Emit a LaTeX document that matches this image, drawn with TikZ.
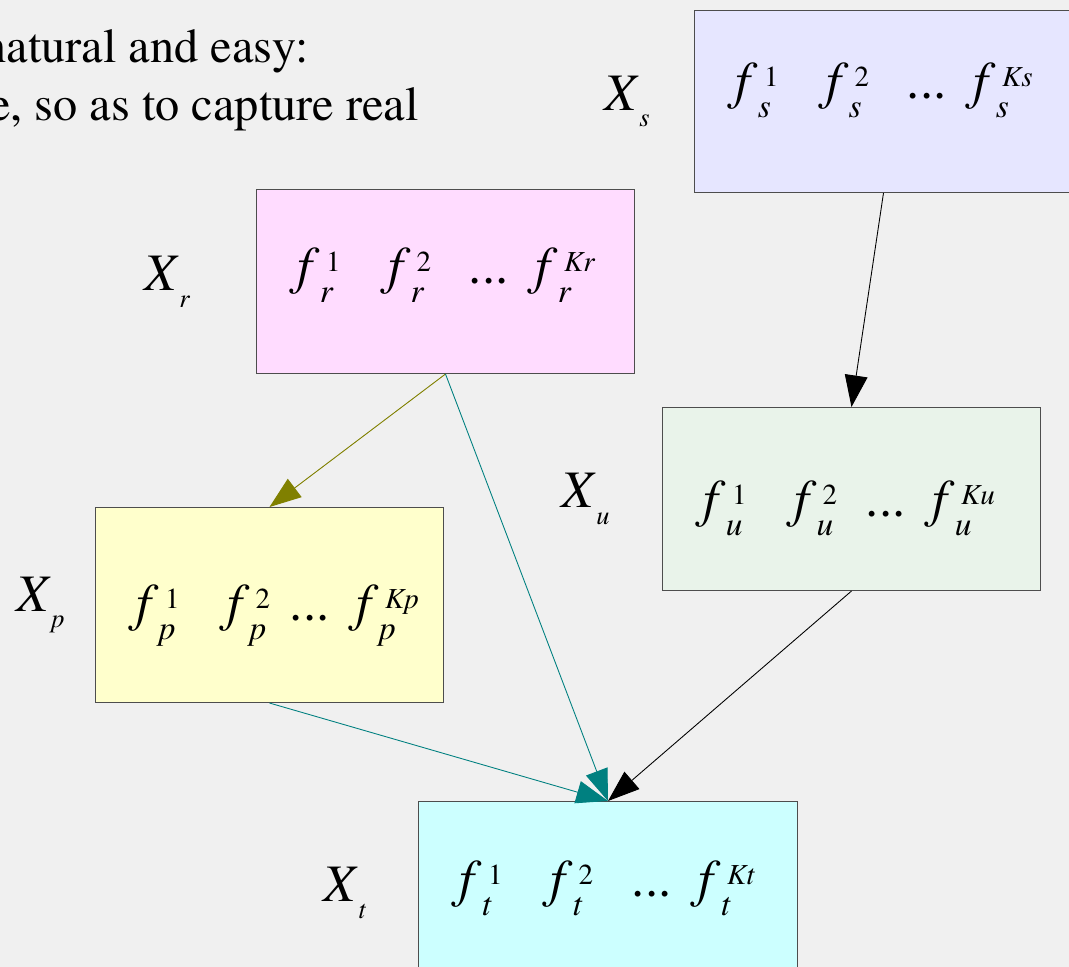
\documentclass[tikz,border=0pt]{standalone}
\usepackage{fontspec}
\setmainfont{texgyretermes}[Extension=.otf, UprightFont=*-regular, ItalicFont=*-italic, BoldFont=*-bold, BoldItalicFont=*-bolditalic]
\usepackage{tikz}
\usetikzlibrary{arrows.meta,positioning}

\definecolor{bgcol}{HTML}{F0F0F0}
\definecolor{edgecol}{HTML}{4D4D4D}
\definecolor{scol}{HTML}{E6E6FF}
\definecolor{rcol}{HTML}{FFDCFF}
\definecolor{ucol}{HTML}{E9F3EA}
\definecolor{pcol}{HTML}{FFFFCC}
\definecolor{tcol}{HTML}{CCFFFF}
\definecolor{olivecol}{HTML}{808000}
\definecolor{tealcol}{HTML}{008080}

% one feature f with sub- and superscript
\newcommand{\fterm}[2]{\textit{f}\rlap{\kern3.5pt\raisebox{7pt}{\fontsize{16.5}{16.5}\selectfont #2}}\raisebox{-10.8pt}{\fontsize{19}{19}\selectfont\itshape #1}}
% the row of features inside a box
\newcommand{\featrow}[2]{\makebox[51.6pt][l]{\fterm{#1}{1}}\makebox[#2][l]{\fterm{#1}{2}}\makebox[38pt][l]{...}\fterm{#1}{\itshape K#1}}
% variable label X with subscript
\newcommand{\varlbl}[1]{\textit{X}\raisebox{-9.5pt}{\fontsize{15}{15}\selectfont\itshape #1}}

\begin{document}
\begin{tikzpicture}[x=0.02cm, y=-0.02cm,
    featbox/.style={rectangle, draw=edgecol, line width=0.6pt, anchor=north west, align=left, inner xsep=0.82cm, inner ysep=0pt, font=\fontsize{30}{30}\selectfont},
    varlabel/.style={inner sep=0pt, font=\fontsize{30}{30}\selectfont},
    arrow/.style={-{Triangle[length=18pt, width=13pt]}, line width=0.5pt}
  ]
    \fill[bgcol] (0,0) rectangle (1069,967);
    \useasboundingbox (0,0) rectangle (1069,967);
    \clip (0,0) rectangle (1069,967);

    \node[anchor=base east, inner sep=0pt, font=\fontsize{27.5}{33}\selectfont] (introa) at (309,62) {natural and easy:};
    \node[anchor=base east, inner sep=0pt, font=\fontsize{27.5}{33}\selectfont] (introb) at (419,120) {e, so as to capture real};

    \node[featbox, fill=scol, text width=5.92cm, minimum height=3.64cm, text height=10.3pt, text depth=13.7pt] (xs) at (694,10) {\featrow{s}{45.9pt}};
    \node[featbox, fill=rcol, text width=5.92cm, minimum height=3.68cm, text height=13.1pt, text depth=10.9pt] (xr) at (256,189) {\featrow{r}{45.9pt}};
    \node[featbox, fill=ucol, text width=5.92cm, minimum height=3.66cm, text height=21.9pt, text depth=2.1pt] (xu) at (662,407) {\featrow{u}{40.8pt}};
    \node[featbox, fill=pcol, text width=5.32cm, minimum height=3.9cm, text height=20.8pt, text depth=3.2pt] (xp) at (95,507) {\featrow{p}{35.7pt}};
    \node[featbox, fill=tcol, text width=5.94cm, minimum height=3.66cm, text height=14pt, text depth=10pt] (xt) at (418,801) {\featrow{t}{46.5pt}};

    \node[varlabel, left=0.88cm of xs] (ls) {\varlbl{s}};
    \node[varlabel, left=1.32cm of xr] (lr) {\varlbl{r}};
    \node[varlabel, left=1.04cm of xu] (lu) {\varlbl{u}};
    \node[varlabel, left=0.6cm of xp] (lp) {\varlbl{p}};
    \node[varlabel, left=1.04cm of xt] (lt) {\varlbl{t}};

    \draw[arrow, black] (xs.south) -- (xu.north);
    \draw[arrow, olivecol, fill=olivecol] (xr.south) -- (xp.north);
    \draw[arrow, tealcol] (xr.south) -- (xt.north);
    \draw[arrow, tealcol] (xp.south) -- (xt.north);
    \draw[arrow, black] (xu.south) -- (xt.north);
  \end{tikzpicture}
\end{document}
